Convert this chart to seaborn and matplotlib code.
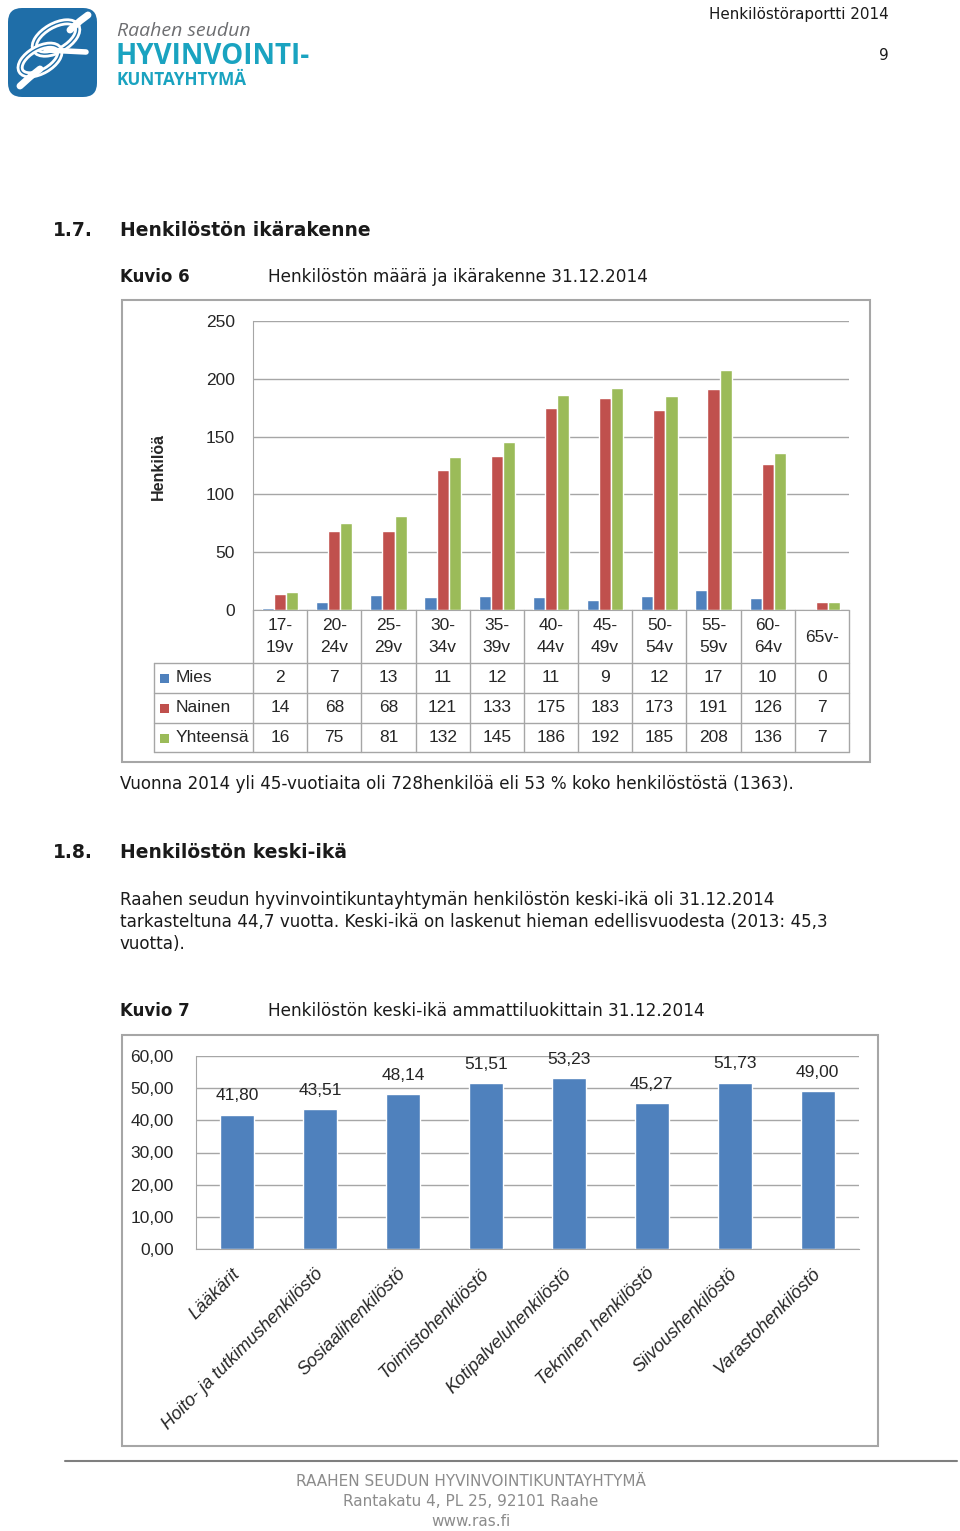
import pandas as pd
import seaborn as sns
import matplotlib.pyplot as plt
from matplotlib.patches import Rectangle, FancyBboxPatch, Ellipse

# data: Kuvio 6
ages = ['17-\n19v', '20-\n24v', '25-\n29v', '30-\n34v', '35-\n39v', '40-\n44v',
        '45-\n49v', '50-\n54v', '55-\n59v', '60-\n64v', '65v-']
mies = [2, 7, 13, 11, 12, 11, 9, 12, 17, 10, 0]
nainen = [14, 68, 68, 121, 133, 175, 183, 173, 191, 126, 7]
yhteensa = [16, 75, 81, 132, 145, 186, 192, 185, 208, 136, 7]
series = ['Mies', 'Nainen', 'Yhteensä']
colors = ['#4f81bd', '#c0504d', '#9bbb59']

# data: Kuvio 7
occupations = ['Lääkärit', 'Hoito- ja tutkimushenkilöstö', 'Sosiaalihenkilöstö',
               'Toimistohenkilöstö', 'Kotipalveluhenkilöstö', 'Tekninen henkilöstö',
               'Siivoushenkilöstö', 'Varastohenkilöstö']
keski_ika = [41.80, 43.51, 48.14, 51.51, 53.23, 45.27, 51.73, 49.00]

sns.set_style('white')
plt.rcParams['font.family'] = ['DejaVu Sans']
CH = ['Liberation Sans', 'DejaVu Sans']
CS = 12.5
GRID = '#a6a6a6'
TXT = '#1a1a1a'

W, H = 960, 1531
fig = plt.figure(figsize=(W / 100, H / 100), dpi=100)


def box(x0, y0, x1, y1):
    return [x0 / W, 1 - y1 / H, (x1 - x0) / W, (y1 - y0) / H]


# overlay axes in pixel coordinates for page text and frames
ov = fig.add_axes([0, 0, 1, 1])
ov.set_xlim(0, W)
ov.set_ylim(H, 0)
ov.axis('off')

# logo
BLUE_LOGO = '#1f6ea8'
ov.add_patch(FancyBboxPatch((15, 15), 75, 75, boxstyle='round,pad=7,rounding_size=14',
                            fc=BLUE_LOGO, ec='none'))
ov.plot([20, 30, 40], [86, 77, 69], color='white', lw=5, solid_capstyle='round')
ov.plot([70, 80, 88], [30, 21, 15], color='white', lw=5, solid_capstyle='round')
for cx, cy, w, h, a in [(56, 38, 48, 25, -30), (40, 60, 44, 23, -30)]:
    ov.add_patch(Ellipse((cx, cy), w, h, angle=a, fc='none', ec='white', lw=5))
    ov.add_patch(Ellipse((cx, cy), w, h, angle=a, fc='none', ec=BLUE_LOGO, lw=1))
ov.plot([46, 86], [50, 52], color='white', lw=4, solid_capstyle='round')
ov.text(117, 31, 'Raahen seudun', fontsize=14, style='italic', color='#6d6e71',
        va='center', family=['Open Sans', 'DejaVu Sans'])
ov.text(116, 56, 'HYVINVOINTI-', fontsize=20, weight='bold', color='#1aa3c0',
        va='center', family=['Open Sans', 'DejaVu Sans'])
ov.text(117, 80, 'KUNTAYHTYMÄ', fontsize=12.3, weight='bold', color='#1aa3c0',
        va='center', family=['Open Sans', 'DejaVu Sans'])

ov.text(889, 15, 'Henkilöstöraportti 2014', fontsize=10.9, ha='right', va='center', color=TXT)
ov.text(889, 55, '9', fontsize=10.9, ha='right', va='center', color=TXT)

# headings and body text
ov.text(53, 231, '1.7.', fontsize=13.5, weight='bold', va='center', color=TXT)
ov.text(120, 231, 'Henkilöstön ikärakenne', fontsize=13.5, weight='bold', va='center', color=TXT)
ov.text(120, 277, 'Kuvio 6', fontsize=12, weight='bold', va='center', color=TXT)
ov.text(268, 277, 'Henkilöstön määrä ja ikärakenne 31.12.2014', fontsize=12.2,
        va='center', color=TXT)

ov.text(120, 784, 'Vuonna 2014 yli 45-vuotiaita oli 728henkilöä eli 53 % koko henkilöstöstä (1363).',
        fontsize=12.1, va='center', color=TXT)
ov.text(53, 853, '1.8.', fontsize=13.5, weight='bold', va='center', color=TXT)
ov.text(120, 853, 'Henkilöstön keski-ikä', fontsize=13.5, weight='bold', va='center', color=TXT)
para = ['Raahen seudun hyvinvointikuntayhtymän henkilöstön keski-ikä oli 31.12.2014',
        'tarkasteltuna 44,7 vuotta. Keski-ikä on laskenut hieman edellisvuodesta (2013: 45,3',
        'vuotta).']
for i, line in enumerate(para):
    ov.text(120, 900 + i * 22, line, fontsize=12.1, va='center', color=TXT)
ov.text(120, 1011, 'Kuvio 7', fontsize=12, weight='bold', va='center', color=TXT)
ov.text(268, 1011, 'Henkilöstön keski-ikä ammattiluokittain 31.12.2014', fontsize=12.2,
        va='center', color=TXT)

# chart frames
ov.add_patch(Rectangle((122, 300), 748, 462, fc='none', ec=GRID, lw=1.5))
ov.add_patch(Rectangle((122, 1035), 756, 411, fc='none', ec=GRID, lw=1.5))

# footer
ov.plot([65, 957], [1461, 1461], color='#7f7f7f', lw=1.5)
for i, line in enumerate(['RAAHEN SEUDUN HYVINVOINTIKUNTAYHTYMÄ',
                          'Rantakatu 4, PL 25, 92101 Raahe', 'www.ras.fi']):
    ov.text(471, 1482 + i * 20, line, fontsize=11, color='#8c8c8c', ha='center', va='center')

# ---- Kuvio 6 ----
df1 = pd.DataFrame({'ika': ages * 3,
                    'sarja': sum([[s] * len(ages) for s in series], []),
                    'henkiloa': mies + nainen + yhteensa})
ax1 = fig.add_axes(box(253, 321, 849, 610))
ax1.set_facecolor('none')
sns.barplot(data=df1, x='ika', y='henkiloa', hue='sarja', hue_order=series,
            palette=colors, saturation=1, width=0.67, legend=False, ax=ax1)
ax1.set_xlim(-0.5, len(ages) - 0.5)
ax1.set_ylim(0, 250)
ax1.set_yticks(range(0, 251, 50))
ax1.yaxis.grid(True, color=GRID, lw=1)
ax1.set_axisbelow(True)
ax1.tick_params(axis='y', length=0, pad=13, labelsize=CS)
for t in ax1.get_yticklabels():
    t.set_family(CH)
ax1.set_xticks([])
ax1.set_xlabel('')
ax1.set_ylabel('')
for s in ['top', 'right']:
    ax1.spines[s].set_visible(False)
for s in ['left', 'bottom']:
    ax1.spines[s].set_color(GRID)
fig.text(158 / W, 1 - 466 / H, 'Henkilöä', rotation=90, fontsize=11.5, weight='bold',
         ha='center', va='center', family=['Liberation Sans', 'DejaVu Sans'])

# data table under the chart
x0, x1 = 253, 849
cw = (x1 - x0) / len(ages)
for y in [663, 693, 723, 752]:
    ov.plot([154, x1], [y, y], color=GRID, lw=1)
for k in range(len(ages) + 1):
    ov.plot([x0 + k * cw] * 2, [610, 752], color=GRID, lw=1)
ov.plot([154, 154], [663, 752], color=GRID, lw=1)
for k, lab in enumerate(ages):
    cx = x0 + (k + 0.5) * cw
    if '\n' in lab:
        a, b = lab.split('\n')
        ov.text(cx, 626, a, ha='center', va='center', fontsize=CS, family=CH)
        ov.text(cx, 648, b, ha='center', va='center', fontsize=CS, family=CH)
    else:
        ov.text(cx, 637, lab, ha='center', va='center', fontsize=CS, family=CH)
for r, (name, vals, col) in enumerate(zip(series, [mies, nainen, yhteensa], colors)):
    cy = 678 + r * 30
    ov.add_patch(Rectangle((160, cy - 4.5), 9, 9, fc=col, ec='none'))
    ov.text(176, cy, name, va='center', fontsize=CS, family=CH)
    for k, v in enumerate(vals):
        ov.text(x0 + (k + 0.5) * cw, cy, str(v), ha='center', va='center', fontsize=CS, family=CH)

# ---- Kuvio 7 ----
df2 = pd.DataFrame({'luokka': occupations, 'ika': keski_ika})
ax2 = fig.add_axes(box(196, 1056, 859, 1249))
ax2.set_facecolor('none')
sns.barplot(data=df2, x='luokka', y='ika', color='#4f81bd', saturation=1, width=0.41, ax=ax2)
ax2.set_xlim(-0.5, len(occupations) - 0.5)
ax2.set_ylim(0, 60)
ax2.set_yticks(range(0, 61, 10))
ax2.set_yticklabels([f'{v:.2f}'.replace('.', ',') for v in range(0, 61, 10)], family=CH)
ax2.yaxis.grid(True, color=GRID, lw=1)
ax2.set_axisbelow(True)
ax2.tick_params(axis='y', length=6, width=1, color=GRID, pad=10, labelsize=CS)
ax2.set_xticks(range(len(occupations)))
ax2.set_xticklabels(occupations, rotation=45, ha='right', va='center',
                    rotation_mode='anchor', style='italic', family=CH, fontsize=13)
ax2.tick_params(axis='x', which='major', length=0, pad=16)
ax2.set_xticks([k - 0.5 for k in range(len(occupations) + 1)], minor=True)
ax2.tick_params(axis='x', which='minor', length=7, width=1, color=GRID, direction='out')
ax2.set_xlabel('')
ax2.set_ylabel('')
for s in ['top', 'right']:
    ax2.spines[s].set_visible(False)
for s in ['left', 'bottom']:
    ax2.spines[s].set_color(GRID)
ax2.bar_label(ax2.containers[0], labels=[f'{v:.2f}'.replace('.', ',') for v in keski_ika],
              padding=8, fontsize=CS, family=CH)

fig.savefig('out.png', dpi=100)
